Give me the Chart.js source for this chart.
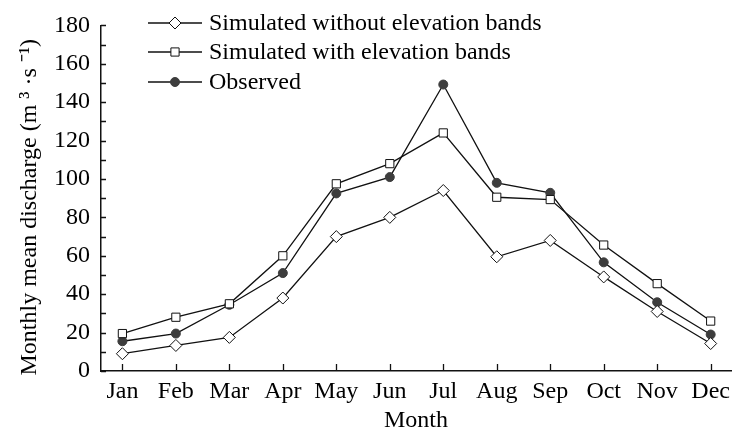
<!DOCTYPE html>
<html>
<head>
<meta charset="utf-8">
<script src="https://cdn.jsdelivr.net/npm/chart.js@4"></script>
<style>
  html, body { margin: 0; padding: 0; background: #fff; }
  #wrap { width: 738px; height: 435px; }
</style>
</head>
<body>
<div id="wrap"><canvas id="dischargeChart" width="738" height="435"></canvas></div>
<script>
// month labels on the x axis
const months = ['Jan', 'Feb', 'Mar', 'Apr', 'May', 'Jun', 'Jul', 'Aug', 'Sep', 'Oct', 'Nov', 'Dec'];
// monthly mean discharge, m3/s
const simWithout = [9, 13.3, 17.5, 38, 70, 80, 94, 59.5, 68, 49, 31, 14.3];
const simWith = [19.5, 28, 35, 60, 97.5, 108, 124, 90.5, 89.3, 65.6, 45.5, 26];
const observed = [15.5, 19.5, 34.5, 51, 92.5, 101, 149.2, 98, 92.8, 56.6, 35.8, 19];
const yTicks = [0, 20, 40, 60, 80, 100, 120, 140, 160, 180];

const FONT = "'Liberation Serif', 'Times New Roman', serif";
const FS = 24;
const INK = '#111';

const toPoints = arr => arr.map((v, i) => ({ x: i + 1, y: v }));

// ticks drawn inward + legend inside the plot, like the original figure
const figureExtras = {
  id: 'figureExtras',
  afterDraw(chart) {
    const ctx = chart.ctx;
    const xs = chart.scales.x, ys = chart.scales.y;
    const area = chart.chartArea;
    ctx.save();
    ctx.strokeStyle = INK;
    ctx.lineWidth = 1.3;
    ctx.beginPath();
    for (let v = 0; v <= 180; v += 10) {
      const py = Math.round(ys.getPixelForValue(v)) + 0.5;
      ctx.moveTo(area.left, py);
      ctx.lineTo(area.left + 5, py);
    }
    months.forEach((m, i) => {
      const px = Math.round(xs.getPixelForValue(i + 1)) + 0.5;
      ctx.moveTo(px, area.bottom);
      ctx.lineTo(px, area.bottom - 7);
    });
    ctx.stroke();

    // legend
    const rowY = [23, 52, 82];
    chart.data.datasets.forEach((ds, i) => {
      const y = rowY[i];
      ctx.strokeStyle = ds.borderColor;
      ctx.lineWidth = ds.borderWidth;
      ctx.beginPath();
      ctx.moveTo(148, y);
      ctx.lineTo(202, y);
      ctx.stroke();
      ctx.fillStyle = ds.pointBackgroundColor;
      ctx.strokeStyle = ds.pointBorderColor;
      ctx.lineWidth = ds.pointBorderWidth;
      Chart.helpers.drawPoint(ctx, {
        pointStyle: ds.pointStyle,
        radius: ds.pointRadius,
        rotation: 0,
        borderWidth: ds.pointBorderWidth
      }, 175, y);
      ctx.fillStyle = '#000';
      ctx.font = FS + 'px ' + FONT;
      ctx.textAlign = 'left';
      ctx.textBaseline = 'middle';
      ctx.fillText(ds.label, 209, y + 1);
    });
    ctx.restore();
  }
};

const lineStyle = {
  borderColor: INK,
  borderWidth: 1.3,
  pointBorderColor: INK,
  pointBorderWidth: 1,
  tension: 0,
  fill: false
};

new Chart(document.getElementById('dischargeChart'), {
  type: 'line',
  data: {
    datasets: [
      Object.assign({}, lineStyle, {
        label: 'Simulated without elevation bands',
        data: toPoints(simWithout),
        pointStyle: 'rectRot',
        pointRadius: 6,
        pointBackgroundColor: '#fff'
      }),
      Object.assign({}, lineStyle, {
        label: 'Simulated with elevation bands',
        data: toPoints(simWith),
        pointStyle: 'rect',
        pointRadius: 5.8,
        pointBackgroundColor: '#fff'
      }),
      Object.assign({}, lineStyle, {
        label: 'Observed',
        data: toPoints(observed),
        pointStyle: 'circle',
        pointRadius: 4.5,
        pointBackgroundColor: '#3d3d3d',
        pointBorderColor: '#3d3d3d'
      })
    ]
  },
  options: {
    responsive: false,
    animation: false,
    layout: { padding: { top: 22, right: 0, left: 0, bottom: 0 } },
    plugins: {
      legend: { display: false },
      tooltip: { enabled: false }
    },
    scales: {
      x: {
        type: 'linear',
        min: 0.6,
        max: 12.38,
        grid: { display: false, drawTicks: false },
        border: { display: true, color: INK, width: 1.5 },
        afterBuildTicks: scale => { scale.ticks = months.map((m, i) => ({ value: i + 1 })); },
        afterFit: scale => { scale.height = 64; },
        ticks: {
          autoSkip: false,
          maxRotation: 0,
          padding: 6,
          color: '#000',
          font: { family: FONT, size: FS },
          callback: v => months[v - 1]
        },
        title: {
          display: true,
          text: 'Month',
          color: '#000',
          padding: { top: 0, bottom: 0 },
          font: { family: FONT, size: FS }
        }
      },
      y: {
        min: 0,
        max: 180,
        grid: { display: false, drawTicks: false },
        border: { display: true, color: INK, width: 1.5 },
        afterBuildTicks: scale => { scale.ticks = yTicks.map(v => ({ value: v })); },
        afterFit: scale => { scale.width = 101; },
        ticks: {
          padding: 11,
          color: '#000',
          font: { family: FONT, size: FS }
        },
        title: {
          display: true,
          text: 'Monthly mean discharge (m ³ ·s ⁻¹)   ',
          color: '#000',
          padding: { top: 15, bottom: 0 },
          font: { family: FONT, size: FS }
        }
      }
    }
  },
  plugins: [figureExtras]
});
</script>
</body>
</html>
